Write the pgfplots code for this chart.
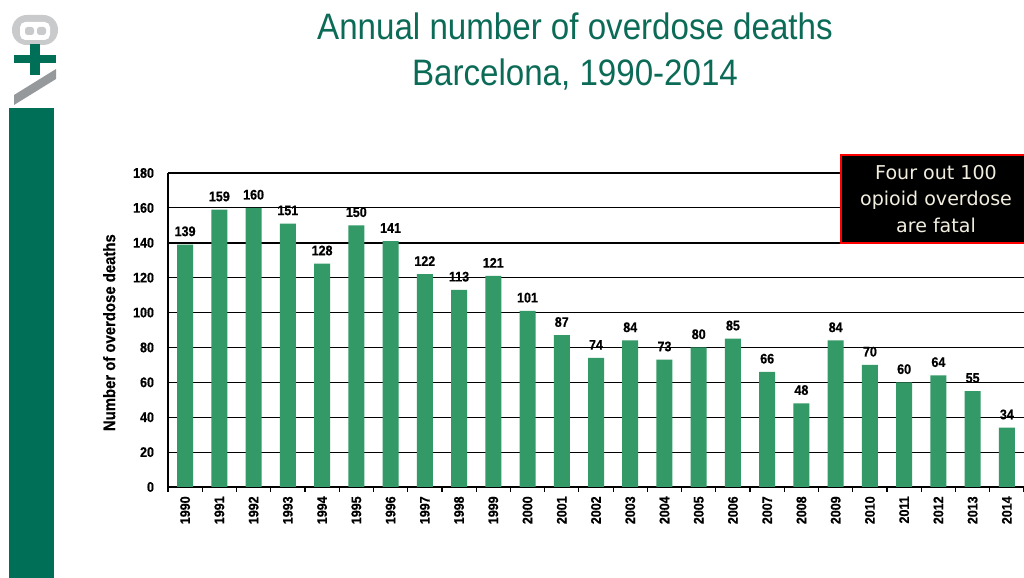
\documentclass[border=0pt]{standalone}
\usepackage{fontspec}
\usepackage{pgfplots}
\pgfplotsset{compat=1.18}
\setmainfont{Liberation Sans}
\newfontfamily\titlefont[FakeStretch=0.9]{Liberation Sans}
\newfontfamily\chartfont[FakeStretch=0.9,BoldFont={Liberation Sans Bold},BoldFeatures={FakeBold=0.6}]{Liberation Sans}
\newfontfamily\boxfont{DejaVu Sans}
\definecolor{sidegreen}{HTML}{006F58}
\definecolor{bargreen}{HTML}{339966}
\definecolor{titlegreen}{HTML}{0B6B57}
\definecolor{logogray}{HTML}{C8CACB}
\definecolor{stripegray}{HTML}{96999C}
\definecolor{boxtext}{HTML}{F2EEDF}
\begin{document}
\begin{tikzpicture}[x=0.75pt,y=0.75pt]
\useasboundingbox (0,0) rectangle (1024,578);
% side decoration
\fill[sidegreen] (9,0) rectangle (54,470);
\fill[logogray,rounded corners=11pt] (12,533) rectangle (58,563);
\fill[white,rounded corners=4pt] (20,538) rectangle (50,556);
\fill[logogray,rounded corners=2pt] (25,543) rectangle (34,551);
\fill[logogray,rounded corners=2pt] (37,543) rectangle (46,551);
\fill[sidegreen] (14,515) rectangle (56,523);
\fill[sidegreen] (30,503) rectangle (40,534);
\fill[stripegray] (14,473) -- (14,483) -- (56,509) -- (56,499) -- cycle;
% title
\node[text=titlegreen,align=center,font=\titlefont\fontsize{27.6}{34.5}\selectfont,anchor=center] at (575,526) {Annual number of overdose deaths\\Barcelona, 1990-2014};
\begin{axis}[
  at={(126pt,68.25pt)},anchor=south west,
  scale only axis,width=642pt,height=235.5pt,
  xmin=-0.5,xmax=24.5,ymin=0,ymax=180,
  ybar,bar width=12pt,
  axis x line*=bottom,axis y line*=left,
  axis line style={black,line width=1.1pt,-},
  xtick={0,...,24},
  xticklabels={1990,1991,1992,1993,1994,1995,1996,1997,1998,1999,2000,2001,2002,2003,2004,2005,2006,2007,2008,2009,2010,2011,2012,2013,2014},
  x tick label style={rotate=90,anchor=east,font=\chartfont\bfseries\fontsize{10.4}{11}\selectfont,xshift=0pt},
  major x tick style={draw=none},
  minor xtick={-0.5,0.5,...,24.5},
  minor x tick style={black,line width=0.9pt},
  minor tick length=3.5pt,
  ytick={0,20,...,180},
  y tick label style={font=\chartfont\bfseries\fontsize{10.4}{11}\selectfont,/pgf/number format/assume math mode=true,xshift=-7pt},
  ytick style={black,line width=0.6pt},
  major tick length=3.5pt,
  ymajorgrids,
  grid style={black,line width=0.6pt},
  extra y ticks={60,140,180},
  extra y tick labels={},
  extra y tick style={grid style={black,line width=1.1pt},tick style={draw=none}},
  ylabel={Number of overdose deaths},
  ylabel style={font=\chartfont\bfseries\fontsize{12.4}{13}\selectfont,at={(axis description cs:0,0.5)},anchor=south,rotate=0,xshift=-2pt,yshift=36pt},
  nodes near coords,
  nodes near coords style={font=\chartfont\bfseries\fontsize{10.4}{11}\selectfont,text=black,inner sep=1.5pt,yshift=4.5pt,/pgf/number format/assume math mode=true},
  clip=false,
]
\addplot[fill=bargreen,draw=none] coordinates {
(0,139)(1,159)(2,160)(3,151)(4,128)(5,150)(6,141)(7,122)(8,113)(9,121)(10,101)(11,87)(12,74)(13,84)(14,73)(15,80)(16,85)(17,66)(18,48)(19,84)(20,70)(21,60)(22,64)(23,55)(24,34)};
\end{axis}
% call-out
\draw[draw=red,fill=black,line width=1.5pt] (840.5,335) rectangle (1030,423);
\node[text=boxtext,align=center,font=\boxfont\fontsize{14.3}{19.8}\selectfont] at (936,379) {Four out 100\\opioid overdose\\are fatal};
\end{tikzpicture}
\end{document}
